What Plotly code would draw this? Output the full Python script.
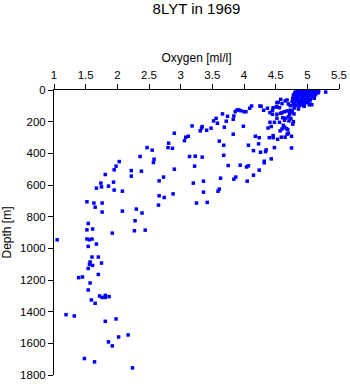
import plotly.graph_objects as go

# Oxygen [ml/l] and depth [m] pairs
oxygen = [
    # deep / low-oxygen branch
    1.05, 1.52, 1.56, 1.60, 1.52, 1.61, 1.54, 1.92, 2.27, 2.44, 1.67, 1.54, 1.60, 1.70,
    1.57, 1.75, 1.56, 1.61, 1.54, 1.70, 1.39, 1.45, 1.57, 1.54, 1.72, 1.76, 1.81, 1.81,
    1.87, 1.59, 1.65, 1.19, 1.32, 1.98, 1.81, 2.17, 2.02, 1.86, 1.92, 1.48, 1.64, 2.24,
    # 450-800 m on the left
    2.03, 1.98, 1.95, 1.81, 1.74, 1.94, 1.86, 1.75, 1.67, 1.95, 2.08, 1.52, 1.63, 1.76,
    1.65, 1.76, 2.08,
    # middle band
    3.66, 3.74, 3.56, 3.52, 3.58, 3.72, 3.18, 3.34, 3.33, 3.31, 3.41, 3.48, 3.69, 2.90,
    3.12, 3.08, 3.06, 3.61, 3.68, 2.81, 2.80, 2.87, 2.47, 2.55, 2.36, 2.58, 2.57, 3.14,
    3.23, 3.34, 3.68, 3.75, 3.22, 2.90, 2.22, 2.22, 2.38, 2.73, 2.66, 3.63, 3.36, 3.20,
    3.61, 3.59, 3.36, 2.66, 2.74, 2.88, 2.65, 3.25, 3.42, 2.30, 2.39, 2.28,
    # right band
    5.29, 3.84, 3.86, 3.89, 3.92, 4.00, 4.03, 3.83, 3.99, 3.83, 3.84, 3.87, 4.05, 4.15,
    4.24, 4.04, 4.07, 3.94, 4.32, 4.32, 4.43, 4.15, 4.26, 4.34, 4.35, 4.48, 4.75, 4.07,
    4.23, 4.18, 4.24, 4.40, 4.46, 4.46, 4.53, 4.59, 4.65, 4.68, 4.70, 4.75, 4.57, 4.60,
    4.62, 4.64, 4.67, 4.69, 4.41, 4.48, 4.56, 4.64, 4.71, 4.77, 4.38, 4.43, 4.45, 4.52,
    4.58, 4.52, 4.61, 4.65, 4.70, 4.72, 4.74, 4.78, 4.25, 4.27, 4.37, 4.31, 4.12, 4.09,
    4.41, 4.45, 4.46, 4.52, 4.52, 3.95, 4.76, 4.79, 4.64, 4.68, 4.72,
    4.58, 4.54, 4.60, 4.65, 4.68, 4.70, 4.73, 4.79, 4.86, 4.76, 4.73,
    4.51, 4.56, 4.60,
    # dense surface cluster
    4.82, 4.86, 4.90, 4.94, 4.98, 5.02, 5.06, 5.10, 5.14, 5.18, 4.84, 4.92, 5.00, 5.08, 5.16,
    4.80, 4.85, 4.89, 4.93, 4.97, 5.01, 5.05, 5.09, 5.12, 5.17, 4.87, 4.95,
    4.78, 4.82, 4.86, 4.90, 4.94, 4.98, 5.02, 5.06, 5.10, 5.13, 4.84, 4.92, 5.00, 5.08,
    4.77, 4.81, 4.85, 4.89, 4.93, 4.97, 5.01, 5.05, 4.83, 4.91, 4.99,
    4.76, 4.80, 4.84, 4.88, 4.92, 4.96, 5.00, 4.86, 4.94,
    4.78, 4.82, 4.87, 4.91, 4.95, 4.80,
    5.04, 5.11, 5.10, 5.07, 5.03, 4.94,
]
depth = [
    946, 941, 946, 941, 883, 878, 843, 904, 889, 885, 973, 988, 1055, 1055,
    1086, 1093, 1101, 1108, 1127, 1165, 1185, 1181, 1219, 1263, 1301, 1310, 1297, 1310,
    1305, 1326, 1347, 1419, 1427, 1446, 1461, 1547, 1560, 1591, 1616, 1696, 1717, 1755,
    452, 481, 504, 534, 588, 582, 607, 612, 620, 632, 639, 706, 714, 714,
    740, 771, 765,
    151, 166, 179, 195, 210, 197, 227, 231, 241, 258, 254, 241, 235, 273,
    292, 298, 320, 323, 349, 336, 364, 368, 364, 380, 420, 437, 458, 420,
    418, 424, 412, 477, 481, 500, 509, 544, 513, 550, 574, 557, 576, 588,
    626, 639, 645, 668, 679, 656, 727, 714, 710, 752, 777, 826,
    13, 164, 137, 126, 126, 137, 137, 185, 229, 279, 563, 550, 576, 538,
    506, 486, 479, 475, 460, 450, 435, 383, 393, 389, 378, 364, 366, 349,
    340, 292, 301, 301, 288, 301, 311, 298, 298, 279, 273, 292, 258, 246,
    223, 235, 244, 250, 204, 204, 204, 191, 195, 216, 240, 231, 153, 153,
    147, 178, 175, 178, 170, 156, 181, 200, 101, 103, 115, 128, 101, 115,
    143, 128, 112, 105, 80, 131, 137, 151, 137, 132, 139,
    59, 78, 86, 69, 63, 88, 99, 115, 120, 141, 128,
    107, 112, 143,
    5, 3, 2, 4, 3, 6, 3, 5, 2, 6, 10, 9, 10, 9, 10,
    18, 15, 20, 16, 22, 18, 20, 16, 22, 18, 25, 27,
    32, 35, 30, 38, 33, 40, 35, 32, 38, 30, 45, 44, 46, 43,
    52, 56, 50, 60, 54, 62, 55, 58, 65, 66, 64,
    72, 76, 70, 80, 74, 82, 78, 85, 88,
    92, 96, 100, 94, 103, 105,
    70, 52, 42, 93, 93, 96,
]

title_text = "8LYT in 1969"
x_label = "Oxygen [ml/l]"
y_label = "Depth [m]"
x_ticks = [1, 1.5, 2, 2.5, 3, 3.5, 4, 4.5, 5, 5.5]
y_ticks = [0, 200, 400, 600, 800, 1000, 1200, 1400, 1600, 1800]

FONT = "Liberation Sans, Arial, Helvetica, sans-serif"

fig = go.Figure(
    go.Scatter(
        x=oxygen, y=depth, mode="markers",
        marker=dict(symbol="square", size=3.5, color="#0000ff", line=dict(width=0)),
        hoverinfo="x+y",
    )
)

fig.update_layout(
    width=350, height=384,
    margin=dict(l=54, r=11, t=90, b=9),
    paper_bgcolor="white", plot_bgcolor="white",
    showlegend=False,
    font=dict(family=FONT, color="black", size=11.5),
    title=dict(text=title_text, x=0.5, xref="paper", xanchor="center",
               y=1 - 9 / 384, yref="container", yanchor="middle",
               font=dict(family=FONT, size=15, color="black")),
)
fig.update_xaxes(
    side="top", range=[1, 5.5], tickvals=x_ticks,
    ticktext=[f"{v:g}" for v in x_ticks], automargin=False,
    showgrid=False, zeroline=False, showline=True, linecolor="black", linewidth=1,
    ticks="outside", ticklen=5, tickcolor="black", tickwidth=1,
    title=dict(text=x_label, font=dict(size=12), standoff=4),
)
fig.update_yaxes(
    range=[1800, 0], tickvals=y_ticks, automargin=False,
    showgrid=False, zeroline=False, showline=True, linecolor="black", linewidth=1,
    ticks="outside", ticklen=5, tickcolor="black", tickwidth=1,
    title=dict(text=y_label, font=dict(size=12), standoff=6),
)

fig.write_html("out.html")
